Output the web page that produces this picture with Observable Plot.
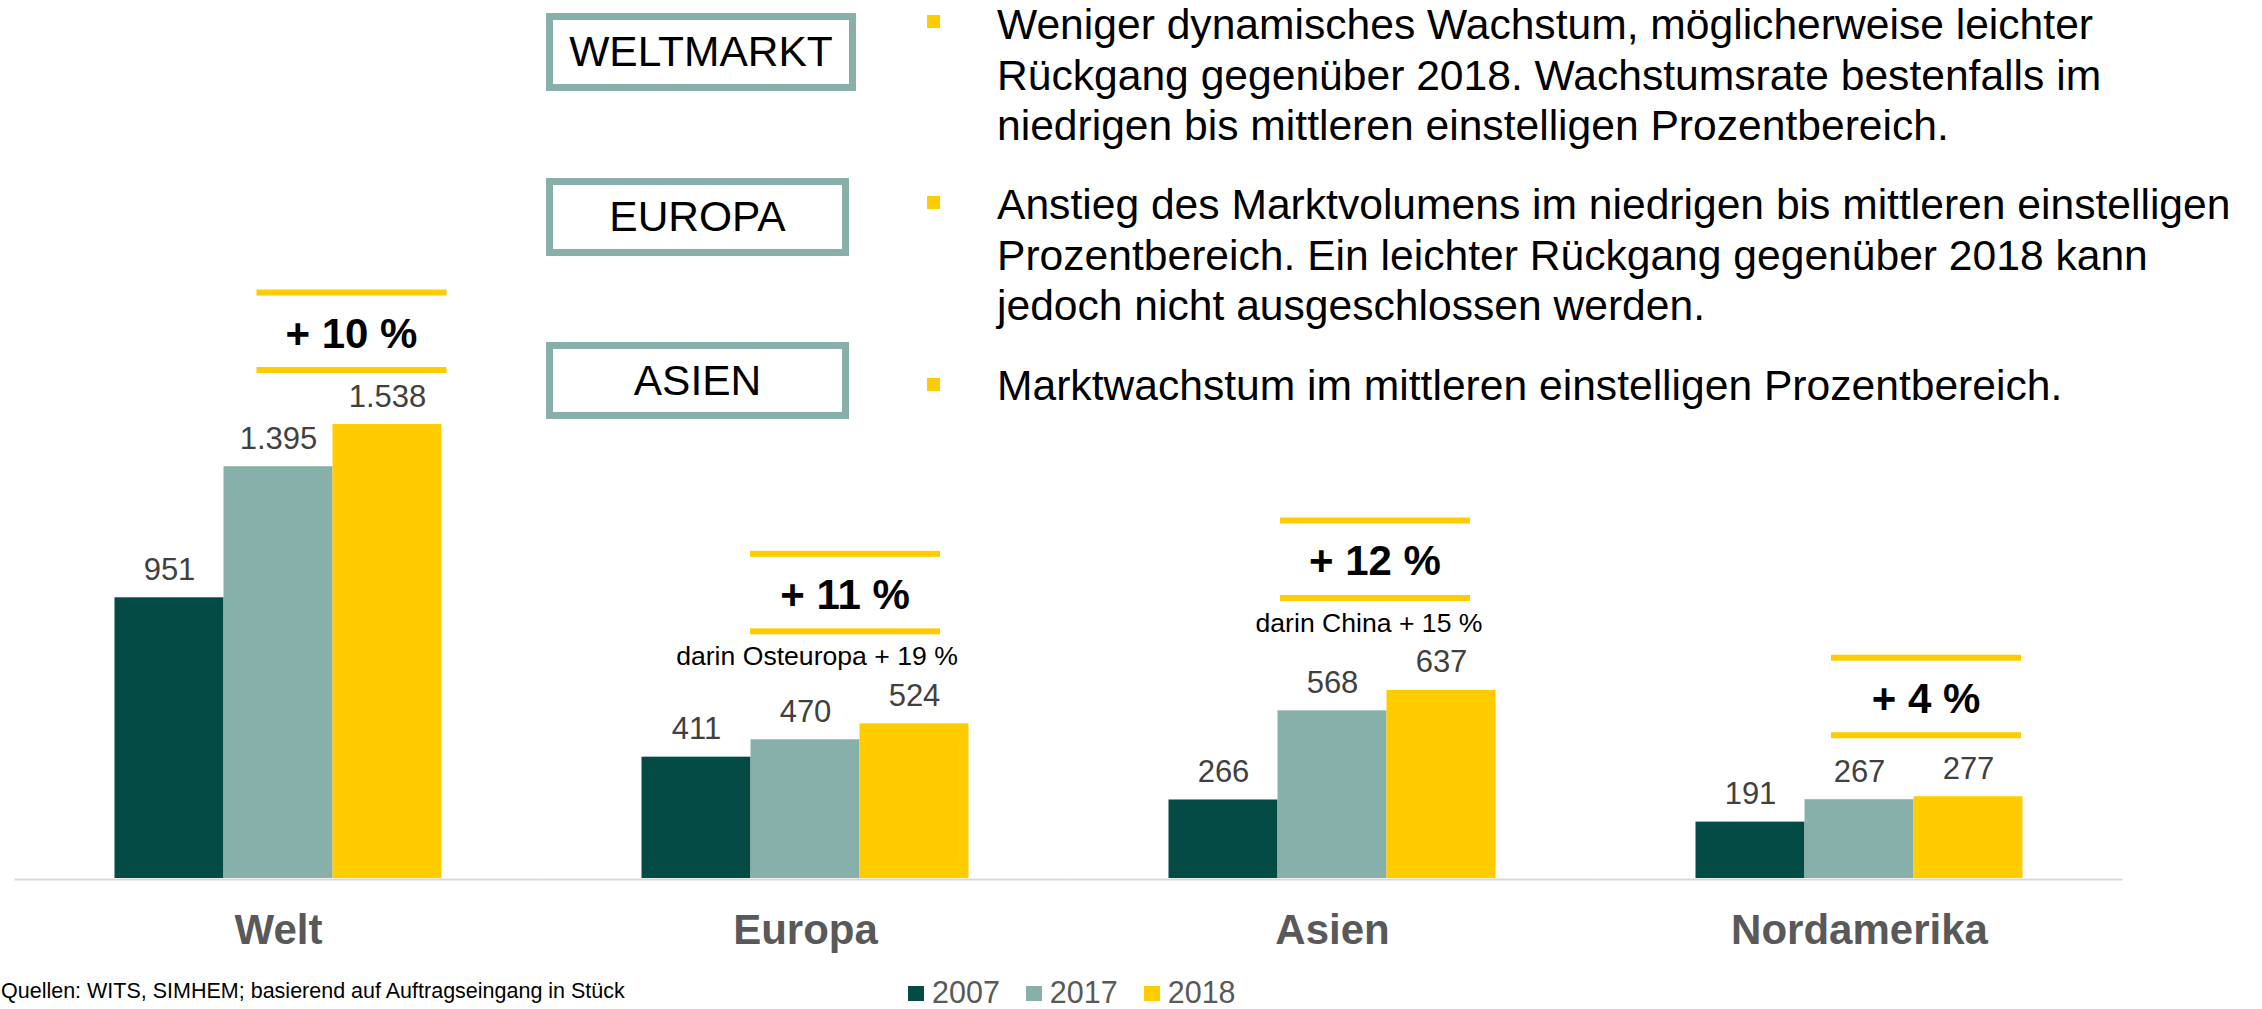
<!DOCTYPE html>
<html>
<head>
<meta charset="utf-8">
<script src="https://cdn.jsdelivr.net/npm/d3@7"></script>
<script src="https://cdn.jsdelivr.net/npm/@observablehq/plot@0.6"></script>
<style>
html, body { margin: 0; padding: 0; background: #fff; }
#root { position: relative; width: 2262px; height: 1009px; overflow: hidden; font-family: "Liberation Sans", Arial, sans-serif; }
#chart { position: absolute; left: 0; top: 0; }
.box { position: absolute; left: 546px; box-sizing: border-box; border: 7px solid #88afa9; display: flex; align-items: center; justify-content: center; font-size: 42.5px; color: #000; }
.bullet { position: absolute; left: 927px; width: 13px; height: 13px; background: #ffcc00; }
.line { position: absolute; left: 997px; font-size: 42.6px; line-height: 44px; height: 44px; color: #000; white-space: nowrap; }
#legend { position: absolute; left: 908px; top: 979px; display: flex; align-items: center; font-size: 30.5px; line-height: 26px; color: #595959; }
#legend .item { display: flex; align-items: center; margin-right: 26px; }
#legend .sw { width: 16px; height: 15px; margin-right: 8px; margin-top: 2px; }
#caption { position: absolute; left: 1px; top: 981px; font-size: 21.5px; line-height: 1; color: #000; white-space: nowrap; }
#chart svg g[aria-label^="fx-axis"] text { font-size: 42px; font-weight: bold; fill: #595959; }
</style>
</head>
<body>
<div id="root"><div id="chart"></div></div>
<script>
// ---- data ----
const regions = ["Welt", "Europa", "Asien", "Nordamerika"];
const years = ["2007", "2017", "2018"];
const values2007 = [951, 411, 266, 191];
const values2017 = [1395, 470, 568, 267];
const values2018 = [1538, 524, 637, 277];
const growthLabels = ["+ 10 %", "+ 11 %", "+ 12 %", "+ 4 %"];
const growthNotes = ["", "darin Osteuropa + 19 %", "darin China + 15 %", ""];
const yearColors = ["#034b44", "#88b0aa", "#ffcc00"];
const boxLabels = ["WELTMARKT", "EUROPA", "ASIEN"];
const bulletLines = [
  ["Weniger dynamisches Wachstum, möglicherweise leichter",
   "Rückgang gegenüber 2018. Wachstumsrate bestenfalls im",
   "niedrigen bis mittleren einstelligen Prozentbereich."],
  ["Anstieg des Marktvolumens im niedrigen bis mittleren einstelligen",
   "Prozentbereich. Ein leichter Rückgang gegenüber 2018 kann",
   "jedoch nicht ausgeschlossen werden."],
  ["Marktwachstum im mittleren einstelligen Prozentbereich."]
];
const sourceNote = "Quellen: WITS, SIMHEM; basierend auf Auftragseingang in Stück";

// ---- layout (pixels) ----
const annotDx = [73.5, 40, 43, 67];
const noteDx = [0, 12, 37, 0];
const annotGap = [54, 92, 92, 61];
const boxLayout = [{top: 13, width: 310, height: 78}, {top: 178, width: 303, height: 78}, {top: 342, width: 303, height: 77}];
const paraBaselines = [39, 219, 400];
const lineStep = 50.3;
const bulletTops = [15, 196, 378];

const de = d3.formatLocale({decimal: ",", thousands: ".", grouping: [3], currency: ["", " €"]});
const fmt = de.format(",d");

const series = [values2007, values2017, values2018];
const rows = [];
regions.forEach((r, i) => series.forEach((arr, j) => rows.push({region: r, year: years[j], value: arr[i]})));

const chart = Plot.plot({
  width: 2262,
  height: 965,
  marginTop: 22,
  marginBottom: 87,
  marginLeft: 14.5,
  marginRight: 139.5,
  style: {background: "transparent", fontFamily: "'Liberation Sans', Arial, sans-serif", overflow: "visible"},
  facet: {data: rows, x: "region"},
  fx: {domain: regions, paddingInner: 0.3776, paddingOuter: 0.1888, label: null, tickSize: 0, tickPadding: 36, axis: "bottom"},
  x: {domain: years, padding: 0, axis: null},
  y: {domain: [0, 2900], axis: null},
  color: {domain: years, range: yearColors},
  marks: [
    Plot.barY(rows, {x: "year", y: "value", fill: "year"}),
    Plot.ruleY([0], {stroke: "#d9d9d9", strokeWidth: 2, dy: 1, insetLeft: -99.5, insetRight: -99.5}),
    Plot.text(rows, {x: "year", y: "value", text: d => fmt(d.value), lineAnchor: "bottom", dy: -18, fontSize: 31, fill: "#404040"})
  ]
});
document.getElementById("chart").appendChild(chart);

// ---- growth annotations positioned with the plot's scales ----
const svg = chart.tagName.toLowerCase() === "svg" ? chart : chart.querySelector("svg");
const fxS = chart.scale("fx"), yS = chart.scale("y");
const fxScale = d3.scaleBand(fxS.domain, fxS.range)
  .paddingInner(fxS.paddingInner ?? 0.3776)
  .paddingOuter(fxS.paddingOuter ?? 0.1888)
  .align(fxS.align ?? 0.5);
const yScale = d3.scaleLinear(yS.domain, yS.range);
const g = d3.select(svg).append("g").attr("aria-label", "growth annotations");
regions.forEach((r, i) => {
  const gc = fxScale(r) + fxScale.bandwidth() / 2;
  const cx = gc + annotDx[i];
  const B = yScale(values2018[i]) - annotGap[i];
  [B, B - 77.5].forEach(yy => g.append("rect").attr("x", cx - 95).attr("y", yy - 3).attr("width", 190).attr("height", 6).attr("fill", "#ffcc00"));
  g.append("text").attr("x", cx).attr("y", B - 22.5).attr("text-anchor", "middle")
    .attr("font-size", 42).attr("font-weight", "bold").attr("fill", "#000").text(growthLabels[i]);
  if (growthNotes[i]) {
    g.append("text").attr("x", gc + noteDx[i]).attr("y", B + 34).attr("text-anchor", "middle")
      .attr("font-size", 26.6).attr("fill", "#000").text(growthNotes[i]);
  }
});

// ---- boxes, bullets, legend, caption ----
const root = d3.select("#root");
boxLabels.forEach((t, i) => {
  root.append("div").attr("class", "box")
    .style("top", boxLayout[i].top + "px").style("width", boxLayout[i].width + "px").style("height", boxLayout[i].height + "px")
    .text(t);
});
bulletLines.forEach((lines, i) => {
  root.append("div").attr("class", "bullet").style("top", bulletTops[i] + "px");
  lines.forEach((l, k) => {
    root.append("div").attr("class", "line")
      .style("top", (paraBaselines[i] + k * lineStep - 36.8) + "px")
      .text(l);
  });
});
const legend = root.append("div").attr("id", "legend");
years.forEach((y, j) => {
  const it = legend.append("div").attr("class", "item");
  it.append("div").attr("class", "sw").style("background", yearColors[j]);
  it.append("span").text(y);
});
root.append("div").attr("id", "caption").text(sourceNote);
</script>
</body>
</html>
